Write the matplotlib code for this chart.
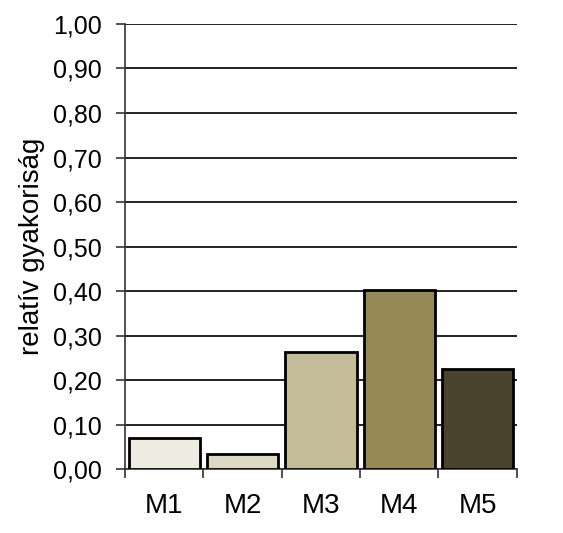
import matplotlib
matplotlib.use("Agg")
import matplotlib.pyplot as plt
import numpy as np
from matplotlib.ticker import FixedLocator, FuncFormatter

categories = ["M1", "M2", "M3", "M4", "M5"]
values = [0.07, 0.034, 0.262, 0.402, 0.224]
colors = ["#EEEBE0", "#DDD7C3", "#C4BC98", "#958A55", "#4A432D"]
yticks = [0.0, 0.1, 0.2, 0.3, 0.4, 0.5, 0.6, 0.7, 0.8, 0.9, 1.0]
ylabel = "relatív gyakoriság"

plt.rcParams['font.family'] = ['Liberation Sans', 'DejaVu Sans']

fig = plt.figure(figsize=(5.63, 5.33), dpi=100)
ax = fig.add_axes([0.222, 0.120, 0.696, 0.835])

x = np.arange(len(categories))
ax.set_axisbelow(True)
ax.bar(x, values, width=0.91, color=colors, edgecolor="black", linewidth=2.0, zorder=3)

ax.set_xlim(-0.5, len(categories) - 0.5)
ax.set_ylim(0, 1.0)
ax.set_yticks(yticks)
ax.yaxis.set_major_formatter(FuncFormatter(lambda v, p: f"{v:.2f}".replace(".", ",")))
ax.yaxis.grid(True, color="#111111", linewidth=1.3)
ax.tick_params(axis="y", direction="out", length=6.5, width=1.2, color="#333333",
               labelsize=18, pad=10)

ax.set_xticks(x)
ax.set_xticklabels(categories)
ax.tick_params(axis="x", which="major", length=0, labelsize=20, pad=17)
ax.xaxis.set_minor_locator(FixedLocator(np.arange(-0.5, len(categories), 1.0)))
ax.tick_params(axis="x", which="minor", direction="out", length=6.5, width=1.2, color="#333333")

for s in ["top", "right"]:
    ax.spines[s].set_visible(False)
for s in ["left", "bottom"]:
    ax.spines[s].set_color("#333333")
    ax.spines[s].set_linewidth(1.2)

ax.set_ylabel(ylabel, fontsize=20, labelpad=6)

fig.savefig("out.png", dpi=100)
